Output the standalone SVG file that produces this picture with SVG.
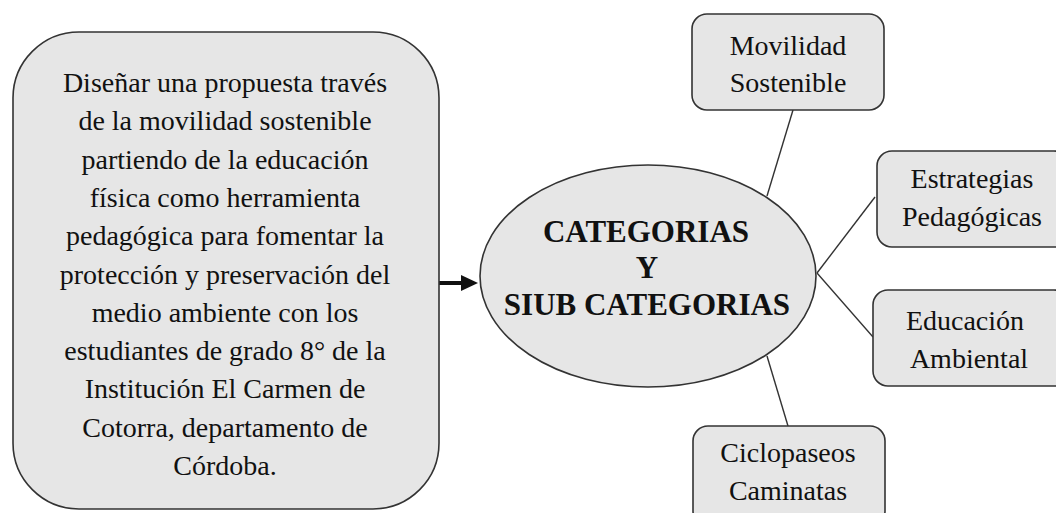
<svg xmlns="http://www.w3.org/2000/svg" width="1056" height="513" viewBox="0 0 1056 513">
<style>
.box{fill:#e6e6e6;stroke:#333;stroke-width:1.6}
.b{font-family:"Liberation Serif","Times New Roman",serif;font-size:31px;font-weight:bold;fill:#111;text-anchor:middle}
.ln{stroke:#333;stroke-width:1.4;fill:none}
</style>
<rect width="1056" height="513" fill="#fff"/>
<g id="connectors">
<line class="ln" x1="793" y1="110" x2="767" y2="196"/>
<line class="ln" x1="875" y1="197" x2="817" y2="273"/>
<line class="ln" x1="817" y1="273" x2="873" y2="337"/>
<line class="ln" x1="767" y1="356" x2="788" y2="426"/>
<path d="M438 281 L461 281 L461 275 L478 283 L461 291 L461 285 L438 285 Z" fill="#111"/>
</g>
<g id="objetivo">
<rect class="box" x="13" y="32" width="426" height="477" rx="66" ry="66"/>
<g fill="#111" text-anchor="middle">
<text font-family="Liberation Serif" font-size="28" x="225" y="92">Diseñar una propuesta través</text>
<text font-family="Liberation Serif" font-size="28" x="225" y="130">de la movilidad sostenible</text>
<text font-family="Liberation Serif" font-size="28" x="225" y="169">partiendo de la educación</text>
<text font-family="Liberation Serif" font-size="28" x="225" y="207">física como herramienta</text>
<text font-family="Liberation Serif" font-size="28" x="225" y="245">pedagógica para fomentar la</text>
<text font-family="Liberation Serif" font-size="28" x="225" y="284">protección y preservación del</text>
<text font-family="Liberation Serif" font-size="28" x="225" y="322">medio ambiente con los</text>
<text font-family="Liberation Serif" font-size="28" x="225" y="360">estudiantes de grado 8° de la</text>
<text font-family="Liberation Serif" font-size="28" x="225" y="398">Institución El Carmen de</text>
<text font-family="Liberation Serif" font-size="28" x="225" y="437">Cotorra, departamento de</text>
<text font-family="Liberation Serif" font-size="28" x="225" y="475">Córdoba.</text>
</g>
</g>
<g id="categorias">
<ellipse class="box" cx="648" cy="276" rx="168" ry="111"/>
<text class="b" x="646" y="242">CATEGORIAS</text>
<text class="b" x="647" y="278">Y</text>
<text class="b" x="647" y="315">SIUB CATEGORIAS</text>
</g>
<g id="movilidad">
<rect class="box" x="692" y="14" width="192" height="96" rx="15" ry="15"/>
<g fill="#111" text-anchor="middle">
<text font-family="Liberation Serif" font-size="28" x="788" y="55">Movilidad</text>
<text font-family="Liberation Serif" font-size="28" x="788" y="92">Sostenible</text>
</g>
</g>
<g id="estrategias">
<rect class="box" x="877" y="151" width="192" height="96" rx="15" ry="15"/>
<g fill="#111" text-anchor="middle">
<text font-family="Liberation Serif" font-size="28" x="972" y="188">Estrategias</text>
<text font-family="Liberation Serif" font-size="28" x="972" y="226">Pedagógicas</text>
</g>
</g>
<g id="educacion">
<rect class="box" x="873" y="290" width="196" height="96" rx="15" ry="15"/>
<g fill="#111" text-anchor="middle">
<text font-family="Liberation Serif" font-size="28" x="965" y="330">Educación</text>
<text font-family="Liberation Serif" font-size="28" x="969" y="368">Ambiental</text>
</g>
</g>
<g id="ciclopaseos">
<rect class="box" x="693" y="426" width="192" height="100" rx="15" ry="15"/>
<g fill="#111" text-anchor="middle">
<text font-family="Liberation Serif" font-size="28" x="788" y="462">Ciclopaseos</text>
<text font-family="Liberation Serif" font-size="28" x="788" y="500">Caminatas</text>
</g>
</g>
</svg>
